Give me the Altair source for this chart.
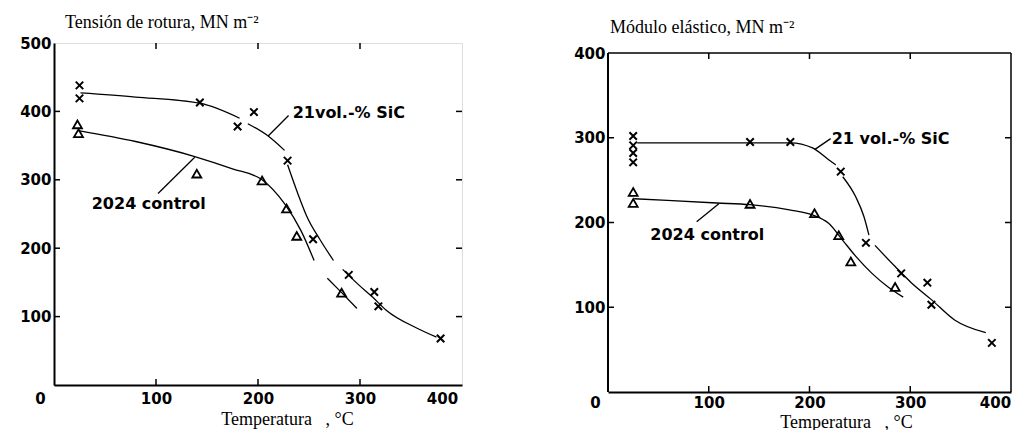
import altair as alt
import pandas as pd

# ---------------- data: left panel (tensile strength) ----------------
L_SIC_T = [25, 25, 143, 180, 196, 229, 254, 289, 314, 318, 379]
L_SIC_V = [438, 419, 413, 378, 399, 328, 213, 161, 136, 115, 68]
L_CTL_T = [23, 24, 140, 204, 228, 238, 282]
L_CTL_V = [381, 368, 309, 299, 258, 218, 135]

L_SIC_CURVE_T = [26, 80, 143, 182, 190, 209, 226, 229, 239, 248, 261, 274, 283, 299, 312, 326, 356, 375]
L_SIC_CURVE_V = [427, 421, 412, 390, 382, 365, 343, 322, 280, 246, 212, 182, 169, 146, 129, 109, 83, 70]
L_SIC_CURVE_S = [1, 1, 1, 1, 2, 2, 2, 3, 3, 3, 3, 3, 4, 4, 4, 4, 4, 4]
L_CTL_CURVE_T = [24, 80, 138, 175, 204, 226, 242, 255, 268, 282, 297]
L_CTL_CURVE_V = [372, 356, 334, 316, 300, 265, 226, 182, 156, 135, 112]
L_CTL_CURVE_S = [1, 1, 1, 1, 1, 1, 1, 1, 2, 2, 2]

L_LEAD_T = [230, 102]
L_LEAD_V = [394, 280]
L_LEAD_T2 = [210, 138]
L_LEAD_V2 = [364, 333]
L_LABEL_T = [234, 37]
L_LABEL_V = [397, 264]
L_LABELS = ["21vol.-% SiC", "2024 control"]

# ---------------- data: right panel (elastic modulus) ----------------
R_SIC_T = [25, 25, 25, 25, 141, 181, 231, 256, 291, 317, 321, 381]
R_SIC_V = [302, 291, 282, 271, 295, 295, 260, 176, 140, 129, 103, 58]
R_CTL_T = [25, 25, 141, 205, 229, 241, 285]
R_CTL_V = [236, 223, 222, 211, 185, 154, 124]

R_SIC_CURVE_T = [29, 141, 181, 203, 219, 226, 233, 246, 254, 259, 265, 285, 301, 321, 344, 375]
R_SIC_CURVE_V = [294, 294, 294, 288, 274, 268, 254, 230, 207, 185, 173, 148, 129, 109, 85, 70]
R_SIC_CURVE_S = [1, 1, 1, 1, 1, 1, 2, 2, 2, 2, 3, 3, 3, 3, 3, 3]
R_CTL_CURVE_T = [26, 108, 141, 180, 203, 219, 233, 246, 262, 278, 293]
R_CTL_CURVE_V = [228, 223, 221, 215, 209, 199, 179, 160, 140, 124, 112]
R_CTL_CURVE_S = [1] * 11

R_LEAD_T = [221, 88]
R_LEAD_V = [299, 201]
R_LEAD_T2 = [205, 110]
R_LEAD_V2 = [286, 222]
R_LABEL_T = [222, 42]
R_LABEL_V = [298, 185]
R_LABELS = ["21 vol.-% SiC", "2024 control"]

# frame of the right panel (data units)
R_FRAME_T = [0, 0, 400]
R_FRAME_V = [400, 0, 0]
R_FRAME_T2 = [400, 0, 400]
R_FRAME_V2 = [400, 400, 400]
R_FRAME_W = [1.5, 2, 1.5]

X_TICKS = [100, 200, 300]
L_Y_TICKS = [100, 200, 300, 400]
R_Y_TICKS = [100, 200, 300]

TITLE_L = "Tensión de rotura, MN m⁻²"
TITLE_R = "Módulo elástico, MN m⁻²"
X_TITLE = "Temperatura\u00a0\u00a0\u00a0, °C"

SERIF = "Liberation Serif"
SANS = "DejaVu Sans"
CROSS = "M-1,-1L1,1M-1,1L1,-1"


def panel(W, H, ymax, ytop, sic_t, sic_v, ctl_t, ctl_v,
          sc_t, sc_v, sc_s, cc_t, cc_v, cc_s,
          ld_t, ld_v, ld_t2, ld_v2, lb_t, lb_v, lb_txt,
          y_ticks, title, title_offset, title_dx, xtitle_x, xtitle_y, framed,
          lab_pad, off0, off400):
    xs = alt.Scale(domain=[0, 400], nice=False, zero=False)
    ys = alt.Scale(domain=[0, ymax], nice=False, zero=False)
    xax = alt.Axis(values=[0, 100, 200, 300, 400], ticks=False, grid=False,
                   domainColor="black", domainWidth=2, labelFlush=False,
                   labelFont=SANS, labelFontSize=15, labelFontWeight="bold",
                   labelColor="black", labelPadding=lab_pad,
                   labelOffset=alt.ExprRef(
                       f"datum.value == 0 ? {off0} : (datum.value == 400 ? {off400} : 0)"),
                   title=X_TITLE, titleFont=SERIF, titleFontSize=18,
                   titleFontWeight="normal", titleColor="black",
                   titleX=xtitle_x, titleY=xtitle_y, titleAlign="center",
                   titleBaseline="alphabetic")
    yax = alt.Axis(values=[100, 200, 300, 400] + ([500] if ytop == 500 else []),
                   ticks=False, grid=False, domain=framed,
                   domainColor="black", domainWidth=2,
                   labelFont=SANS, labelFontSize=15, labelFontWeight="bold",
                   labelColor="black", labelPadding=3, title=None)

    sic = pd.DataFrame({"t": sic_t, "v": sic_v})
    ctl = pd.DataFrame({"t": ctl_t, "v": ctl_v})
    sc = pd.DataFrame({"t": sc_t, "v": sc_v, "s": sc_s})
    cc = pd.DataFrame({"t": cc_t, "v": cc_v, "s": cc_s})
    ld = pd.DataFrame({"t": ld_t, "v": ld_v, "t2": ld_t2, "v2": ld_v2})
    lb = pd.DataFrame({"t": lb_t, "v": lb_v, "txt": lb_txt})
    xt = pd.DataFrame({"t": X_TICKS})
    yt = pd.DataFrame({"v": y_ticks})

    X = alt.X("t:Q", scale=xs)
    Y = alt.Y("v:Q", scale=ys)

    curve_s = alt.Chart(sc).mark_line(color="black", strokeWidth=1.3, interpolate="monotone").encode(
        x=alt.X("t:Q", scale=xs, axis=xax), y=alt.Y("v:Q", scale=ys, axis=yax), detail="s:N")
    curve_c = alt.Chart(cc).mark_line(color="black", strokeWidth=1.3, interpolate="monotone").encode(
        x=X, y=Y, detail="s:N")
    pts_s = alt.Chart(sic).mark_point(shape=CROSS, size=56, color="black", strokeWidth=2,
                                      filled=False, opacity=1).encode(x=X, y=Y)
    pts_c = alt.Chart(ctl).mark_point(shape="triangle-up", size=80, color="black", strokeWidth=1.8,
                                      filled=False, opacity=1).encode(x=X, y=Y)
    leads = alt.Chart(ld).mark_rule(color="black", strokeWidth=1.3).encode(
        x=X, y=Y, x2="t2:Q", y2="v2:Q")
    labels = alt.Chart(lb).mark_text(font=SANS, fontSize=16, fontWeight="bold", color="black",
                                     align="left", baseline="middle").encode(
        x=X, y=Y, text="txt:N")
    # inward ticks
    top_px = (1 - ytop / ymax) * H
    tk_b = alt.Chart(xt).mark_rule(color="black", strokeWidth=1.5).encode(
        x=X, y=alt.value(H), y2=alt.value(H - 6))
    tk_t = alt.Chart(xt).mark_rule(color="black", strokeWidth=1.5).encode(
        x=X, y=alt.value(top_px), y2=alt.value(top_px + 6))
    tk_l = alt.Chart(yt).mark_rule(color="black", strokeWidth=1.5).encode(
        y=Y, x=alt.value(0), x2=alt.value(6))
    tk_r = alt.Chart(yt).mark_rule(color="black", strokeWidth=1.5).encode(
        y=Y, x=alt.value(W), x2=alt.value(W - 6))

    layers = [curve_s, curve_c, pts_s, pts_c, leads, labels, tk_b, tk_t, tk_l, tk_r]
    props = dict(width=W, height=H,
                 title=alt.TitleParams(title, anchor="start", frame="group", font=SERIF, fontSize=18,
                                       fontWeight="normal", color="black", offset=title_offset,
                                       dx=title_dx))
    if not framed:
        fr = pd.DataFrame({"t": R_FRAME_T, "v": R_FRAME_V, "t2": R_FRAME_T2, "v2": R_FRAME_V2,
                           "w": R_FRAME_W})
        frame = alt.Chart(fr).mark_rule(color="black").encode(
            x=X, y=Y, x2="t2:Q", y2="v2:Q",
            strokeWidth=alt.StrokeWidth("w:Q", scale=None, legend=None))
        layers.append(frame)
        props["view"] = alt.ViewBackground(stroke="transparent")
    return alt.layer(*layers).properties(**props)


left = panel(408, 342, 500, 500, L_SIC_T, L_SIC_V, L_CTL_T, L_CTL_V,
             L_SIC_CURVE_T, L_SIC_CURVE_V, L_SIC_CURVE_S,
             L_CTL_CURVE_T, L_CTL_CURVE_V, L_CTL_CURVE_S,
             L_LEAD_T, L_LEAD_V, L_LEAD_T2, L_LEAD_V2, L_LABEL_T, L_LABEL_V, L_LABELS,
             L_Y_TICKS, TITLE_L, 4, 11, 233, 39, True, 6, -14, -20)

# right panel: plot area extends 10px above its frame (frame drawn at 400)
R_H = 349
R_YMAX = 400 * R_H / 339
right = panel(403, R_H, R_YMAX, 400, R_SIC_T, R_SIC_V, R_CTL_T, R_CTL_V,
              R_SIC_CURVE_T, R_SIC_CURVE_V, R_SIC_CURVE_S,
              R_CTL_CURVE_T, R_CTL_CURVE_V, R_CTL_CURVE_S,
              R_LEAD_T, R_LEAD_V, R_LEAD_T2, R_LEAD_V2, R_LABEL_T, R_LABEL_V, R_LABELS,
              R_Y_TICKS, TITLE_R, 6, 2, 238, 35, False, 3, -13, -16)

chart = alt.hconcat(left, right, spacing=109).properties(
    padding={"left": 11, "top": 5, "right": 0, "bottom": 0}
).configure_view(stroke="black", strokeWidth=1.5).configure(background="white")

chart.save("out.html", embed_options={"renderer": "svg", "actions": False})
